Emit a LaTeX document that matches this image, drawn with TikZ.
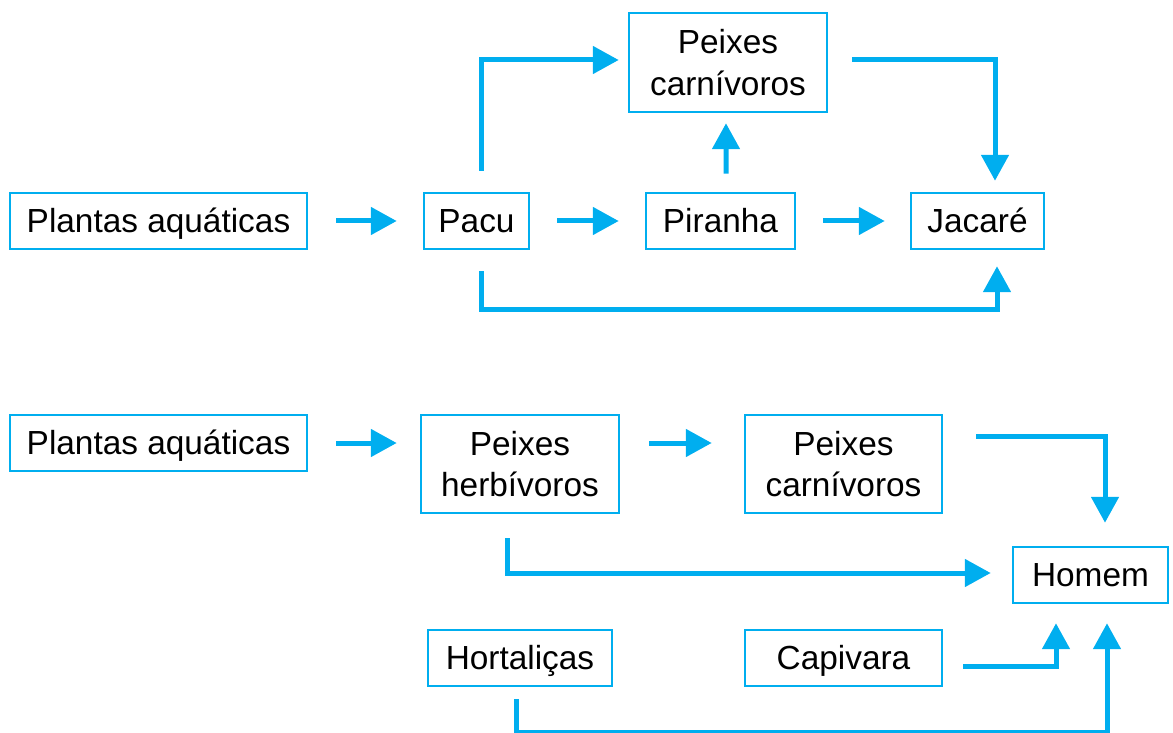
\documentclass[tikz,border=0pt]{standalone}
\usepackage{fontspec}
\setmainfont{Liberation Sans}
\usetikzlibrary{arrows.meta,calc}
\definecolor{cy}{RGB}{0,174,239}
\begin{document}
\begin{tikzpicture}[x=0.02cm,y=-0.02cm,
  box/.style 2 args={draw=cy,line width=0.05cm,inner sep=0pt,align=center,
    minimum width=#1*0.02cm,minimum height=#2*0.02cm,
    font=\fontsize{19pt}{23.8pt}\selectfont},
  oneline/.style={text height=13.6pt,text depth=0pt},
  arr/.style={draw=cy,line width=0.1cm,-{Triangle[width=0.54cm,length=0.52cm]}}]
\useasboundingbox (0,0) rectangle (1173,733);
% top chain
\node[box={297}{56},oneline] (pa1) at (158.5,221) {Plantas aquáticas};
\node[box={105}{56},oneline] (pacu) at (476.5,221) {Pacu};
\node[box={149}{56},oneline] (pir) at (720.5,221) {Piranha};
\node[box={133}{56},oneline] (jac) at (977.5,221) {Jacaré};
\node[box={198}{99}] (pc1) at (728,62.5) {Peixes\\carnívoros};
% bottom chain
\node[box={297}{56},oneline] (pa2) at (158.5,443) {Plantas aquáticas};
\node[box={198}{98}] (ph) at (520,464) {Peixes\\herbívoros};
\node[box={197}{98}] (pc2) at (843.5,464) {Peixes\\carnívoros};
\node[box={155}{56},oneline] (hom) at (1090.5,575) {Homem};
\node[box={184}{56},oneline] (hort) at (520,658) {Hortaliças};
\node[box={197}{56},oneline] (cap) at (843.5,658) {Capivara};
% top arrows
\draw[arr] ($(pa1.east)+(28,0)$) -- ($(pacu.west)+(-26,0)$);
\draw[arr] ($(pacu.east)+(27,0)$) -- ($(pir.west)+(-26,0)$);
\draw[arr] ($(pir.east)+(27,0)$) -- ($(jac.west)+(-25,0)$);
\draw[arr] ($(pacu.north)+(4.5,-21)$) |- ($(pc1.west)+(-9,-2.5)$);
\draw[arr] ($(pir.north)+(5.5,-18)$) -- ($(pc1.south)+(-2,10)$);
\draw[arr] ($(pc1.east)+(24,-2.5)$) -| ($(jac.north)+(17.5,-11)$);
\draw[arr] ($(pacu.south)+(4.5,21)$) -- ++(0,38) -| ($(jac.south)+(19.5,16)$);
% bottom arrows
\draw[arr] ($(pa2.east)+(28,0)$) -- ($(ph.west|-pa2.east)+(-23,0)$);
\draw[arr] ($(ph.east)+(29,-21)$) -- ($(pc2.west)+(-32,-21)$);
\draw[arr] ($(pc2.east)+(33,-28)$) -| ($(hom.north)+(14.5,-23)$);
\draw[arr] ($(ph.south)+(-13,24)$) |- ($(hom.west)+(-21,-2)$);
\draw[arr] ($(cap.east)+(20,8)$) -| ($(hom.south)+(-34.5,19)$);
\draw[arr] ($(hort.south)+(-4,12)$) -- ++(0,33) -| ($(hom.south)+(16.5,19)$);
\end{tikzpicture}
\end{document}
